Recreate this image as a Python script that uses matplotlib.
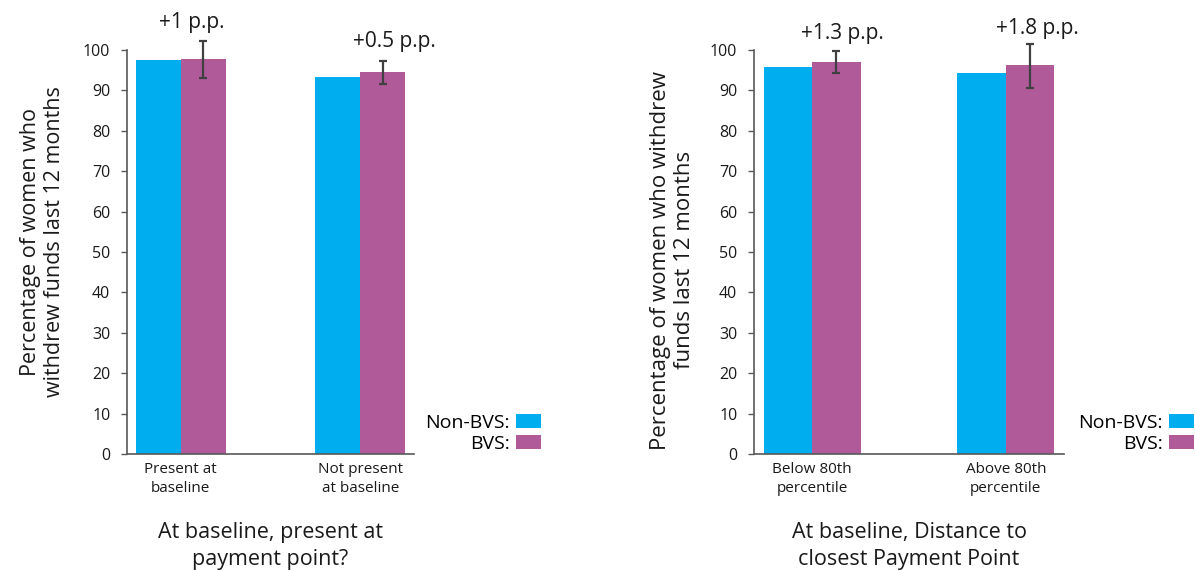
import matplotlib
matplotlib.use('Agg')
import matplotlib.pyplot as plt
import numpy as np

plt.rcParams['font.family'] = ['Open Sans', 'DejaVu Sans']

# Panel 1: present at payment point at baseline
cats_left = ['Present at\nbaseline', 'Not present\nat baseline']
non_bvs_left = [97.5, 93.3]
bvs_left = [97.8, 94.6]
bvs_err_lo_left = [93.1, 91.7]
bvs_err_hi_left = [102.2, 97.3]
notes_left = ['+1 p.p.', '+0.5 p.p.']

# Panel 2: distance to closest payment point
cats_right = ['Below 80th\npercentile', 'Above 80th\npercentile']
non_bvs_right = [95.8, 94.3]
bvs_right = [97.0, 96.4]
bvs_err_lo_right = [94.2, 90.6]
bvs_err_hi_right = [99.8, 101.5]
notes_right = ['+1.3 p.p.', '+1.8 p.p.']

BLUE = '#00AEEF'
PURPLE = '#B05A9A'
GREY = '#595959'

W, H = 1195, 571
fig = plt.figure(figsize=(W / 100, H / 100), dpi=100)


def panel(rect, cats, nb, b, lo, hi, notes, note_pos, ylabel, ylab_xy, ylab_size,
          xlabel, legend_x):
    ax = fig.add_axes(rect)
    x = np.arange(len(cats))
    w = 0.25
    ax.bar(x - w / 2, nb, width=w, color=BLUE, label='Non-BVS:')
    ax.bar(x + w / 2, b, width=w, color=PURPLE, label='BVS:')
    b = np.array(b)
    yerr = [b - np.array(lo), np.array(hi) - b]
    ax.errorbar(x + w / 2, b, yerr=yerr, fmt='none', ecolor='#404040',
                elinewidth=1.6, capsize=3, capthick=1.6, clip_on=False)
    for (tx, ty), s in zip(note_pos, notes):
        ax.text(tx, ty, s, ha='center', va='center', fontsize=15,
                color='#1a1a1a', clip_on=False)
    ax.set_ylim(0, 100)
    ax.set_xlim(-0.3, 1.3)
    ax.set_yticks(range(0, 101, 10))
    ax.set_xticks(x)
    ax.set_xticklabels(cats, fontsize=11, color='#1a1a1a', linespacing=1.3)
    ax.tick_params(axis='x', length=0, pad=6)
    ax.tick_params(axis='y', length=4, width=1, color=GREY, labelsize=11.5,
                   labelcolor='#1a1a1a', pad=8)
    for s in ['top', 'right']:
        ax.spines[s].set_visible(False)
    for s in ['left', 'bottom']:
        ax.spines[s].set_color(GREY)
        ax.spines[s].set_linewidth(1.2)
    ax.set_ylabel(ylabel, fontsize=ylab_size, color='#1a1a1a', linespacing=1.2)
    ax.yaxis.set_label_coords(*ylab_xy)
    ax.set_xlabel(xlabel, fontsize=15.5, color='#1a1a1a', linespacing=1.4,
                  labelpad=19)
    handles, labels = ax.get_legend_handles_labels()
    fig.legend(handles, labels, loc='upper right',
               bbox_to_anchor=(legend_x / W, 1 - 414 / H),
               bbox_transform=fig.transFigure, frameon=False, markerfirst=False,
               fontsize=14, handlelength=1.3, handleheight=0.7,
               handletextpad=0.3, labelspacing=0.15, borderpad=0,
               borderaxespad=0)
    return ax


bottom = 1 - 454 / H
height = 404 / H

panel([127 / W, bottom, 287 / W, height], cats_left, non_bvs_left, bvs_left,
      bvs_err_lo_left, bvs_err_hi_left, notes_left,
      [(0.06, 106.7), (1.19, 102.2)],
      'Percentage of women who\nwithdrew funds last 12 months', (-0.215, 0.525), 15.5,
      'At baseline, present at\npayment point?', 541)

panel([754 / W, bottom, 310 / W, height], cats_right, non_bvs_right, bvs_right,
      bvs_err_lo_right, bvs_err_hi_right, notes_right,
      [(0.156, 104.0), (1.16, 105.4)],
      'Percentage of women who withdrew\nfunds last 12 months', (-0.19, 0.48), 16,
      'At baseline, Distance to\nclosest Payment Point', 1194)

fig.savefig('out.png', dpi=100)
